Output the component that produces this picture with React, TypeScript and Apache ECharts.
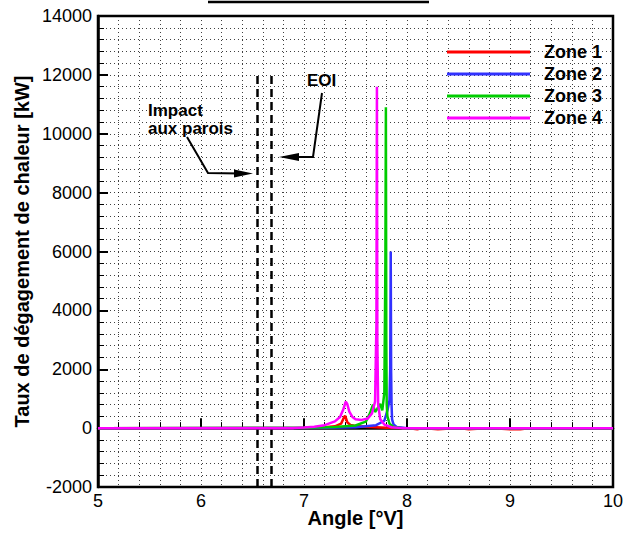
import React, { useEffect, useRef } from "react";
import * as echarts from "echarts";

// Heat release rate per zone versus crank angle
const zoneNames = ["Zone 1", "Zone 2", "Zone 3", "Zone 4"];
const zoneColors = ["#ff0000", "#3232ff", "#00cc00", "#ff00ff"];

const zone1Angle = [5.0, 7.0, 7.2, 7.3, 7.36, 7.39, 7.4, 7.42, 7.45, 7.5, 7.6, 7.7, 7.8, 8.0, 8.1, 8.15, 8.3, 8.5, 8.6, 8.8, 9.0, 9.1, 9.2, 10.0];
const zone1Value = [0, 10, 30, 60, 150, 380, 420, 200, 110, 70, 50, 30, 10, 0, -40, 0, -40, 0, -40, 0, -40, -40, 0, 0];

const zone2Angle = [5.0, 7.2, 7.5, 7.7, 7.78, 7.81, 7.83, 7.837, 7.842, 7.846, 7.85, 7.855, 7.87, 7.9, 8.0, 10.0];
const zone2Value = [0, 10, 30, 100, 250, 600, 950, 2000, 6000, 1900, 800, 300, 120, 40, 0, 0];

const zone3Angle = [5.0, 7.0, 7.3, 7.5, 7.6, 7.64, 7.67, 7.69, 7.71, 7.74, 7.76, 7.78, 7.79, 7.795, 7.799, 7.803, 7.81, 7.83, 7.87, 7.95, 10.0];
const zone3Value = [0, 10, 40, 90, 220, 500, 800, 550, 650, 820, 600, 1200, 5500, 10900, 3000, 800, 400, 150, 40, 0, 0];

const zone4Angle = [5.0, 6.9, 7.0, 7.1, 7.2, 7.3, 7.35, 7.38, 7.405, 7.42, 7.44, 7.47, 7.5, 7.56, 7.62, 7.66, 7.69, 7.703, 7.708, 7.712, 7.72, 7.74, 7.78, 7.85, 7.95, 10.0];
const zone4Value = [0, 0, 20, 50, 100, 230, 380, 620, 900, 820, 560, 380, 300, 280, 330, 500, 900, 3500, 11600, 3000, 800, 300, 120, 30, 0, 0];

const zoneAngles = [zone1Angle, zone2Angle, zone3Angle, zone4Angle];
const zoneValues = [zone1Value, zone2Value, zone3Value, zone4Value];

// Reference events on the angle axis
const impactAngle = 6.55;
const eoiAngle = 6.68;
const markerTop = 12000;

const xTicks = { min: 5, max: 10, interval: 1 };
const yTicks = { min: -2000, max: 14000, interval: 2000 };

const FONT = "Liberation Sans, Arial, sans-serif";

export default function App() {
  const ref = useRef<HTMLDivElement>(null);

  useEffect(() => {
    document.body.style.margin = "0";
    const chart = echarts.init(ref.current!, undefined, { renderer: "svg" });

    const dotted = { color: "#000", width: 1, type: [1, 3] as number[], opacity: 0.75 };

    const series: any[] = zoneNames.map((name, i) => ({
      name,
      type: "line",
      showSymbol: false,
      data: zoneAngles[i].map((a, k) => [a, zoneValues[i][k]]),
      lineStyle: { color: zoneColors[i], width: 2.5 },
      itemStyle: { color: zoneColors[i] },
      z: 3 + i,
    }));

    series.push({
      name: "markers",
      type: "line",
      data: [],
      silent: true,
      markLine: {
        symbol: "none",
        silent: true,
        label: { show: false },
        lineStyle: { color: "#000", width: 2.5, type: [8, 5] },
        data: [
          [{ coord: [impactAngle, yTicks.min] }, { coord: [impactAngle, markerTop] }],
          [{ coord: [eoiAngle, yTicks.min] }, { coord: [eoiAngle, markerTop] }],
        ],
      },
    });

    chart.setOption({
      animation: false,
      grid: {
        left: 98,
        top: 16,
        width: 515,
        height: 471,
        show: true,
        borderColor: "#000",
        borderWidth: 2.5,
        outerBoundsMode: "none",
        containLabel: false,
      },
      legend: {
        data: zoneNames,
        orient: "vertical",
        left: 442,
        top: 38,
        icon: "rect",
        itemWidth: 83,
        itemHeight: 3,
        itemGap: 4,
        textStyle: {
          fontFamily: FONT,
          fontWeight: "bold",
          fontSize: 18,
          lineHeight: 18,
          color: "#000",
          padding: [0, 0, 0, 9],
        },
      },
      xAxis: {
        type: "value",
        min: xTicks.min,
        max: xTicks.max,
        interval: xTicks.interval,
        name: "Angle [°V]",
        nameLocation: "middle",
        nameGap: 21,
        nameMoveOverlap: false,
        nameTextStyle: { fontFamily: FONT, fontWeight: "bold", fontSize: 20, color: "#000" },
        axisLine: { lineStyle: { color: "#000", width: 2.5 } },
        axisTick: { inside: true, length: 10, lineStyle: { color: "#000", width: 2 } },
        minorTick: { show: true, splitNumber: 5, length: 6, lineStyle: { color: "#000", width: 1 } },
        axisLabel: { fontFamily: FONT, fontSize: 18, color: "#000", margin: 5 },
        splitLine: { show: true, lineStyle: dotted },
        minorSplitLine: { show: true, lineStyle: dotted },
      },
      yAxis: {
        type: "value",
        min: yTicks.min,
        max: yTicks.max,
        interval: yTicks.interval,
        name: "Taux de dégagement de chaleur [kW]",
        nameLocation: "middle",
        nameGap: 66,
        nameMoveOverlap: false,
        nameTextStyle: { fontFamily: FONT, fontWeight: "bold", fontSize: 20, color: "#000" },
        axisLine: { lineStyle: { color: "#000", width: 2.5 } },
        axisTick: { inside: true, length: 10, lineStyle: { color: "#000", width: 2 } },
        minorTick: { show: true, splitNumber: 5, length: 6, lineStyle: { color: "#000", width: 1 } },
        axisLabel: {
          fontFamily: FONT,
          fontSize: 18,
          color: "#000",
          margin: 6,
          formatter: (v: number) => String(v),
        },
        splitLine: { show: true, lineStyle: dotted },
        minorSplitLine: { show: true, lineStyle: dotted },
      },
      graphic: [
        {
          type: "line",
          shape: { x1: 208, y1: 2, x2: 429, y2: 2 },
          style: { stroke: "#000", lineWidth: 2.5 },
        },
        {
          type: "text",
          left: 148,
          top: 101,
          style: {
            text: "Impact\naux parois",
            fontFamily: FONT,
            fontWeight: "bold",
            fontSize: 17,
            lineHeight: 18,
            fill: "#000",
          },
        },
        {
          type: "text",
          left: 307,
          top: 72,
          style: { text: "EOI", fontFamily: FONT, fontWeight: "bold", fontSize: 17, fill: "#000" },
        },
        {
          type: "polyline",
          shape: { points: [[187, 137], [208, 173], [240, 173.5]] },
          style: { stroke: "#000", lineWidth: 2, fill: "none" },
        },
        {
          type: "polygon",
          shape: { points: [[234, 169.5], [253, 173.5], [234, 177.5]] },
          style: { fill: "#000" },
        },
        {
          type: "polyline",
          shape: { points: [[322, 93], [313, 157], [292, 157]] },
          style: { stroke: "#000", lineWidth: 2, fill: "none" },
        },
        {
          type: "polygon",
          shape: { points: [[299, 153], [279, 157], [299, 161]] },
          style: { fill: "#000" },
        },
      ],
      series,
    });

    return () => chart.dispose();
  }, []);

  return (
    <div
      ref={ref}
      style={{ position: "absolute", left: 0, top: 0, width: 634, height: 534 }}
    />
  );
}
